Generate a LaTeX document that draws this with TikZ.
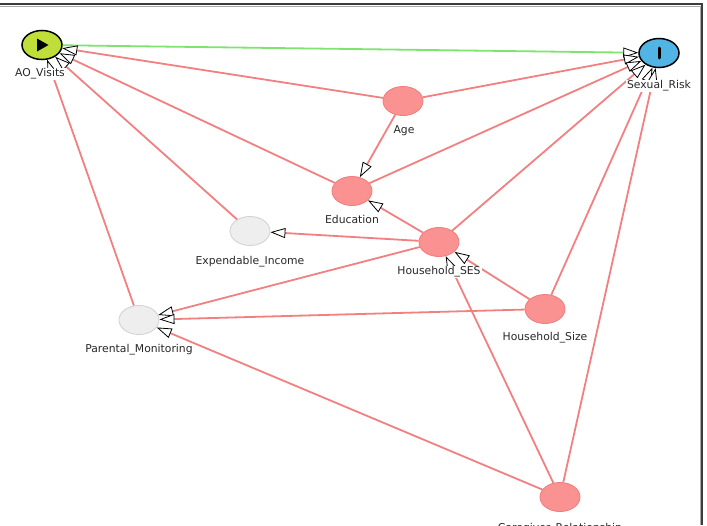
\documentclass[tikz,border=0pt]{standalone}
\usepackage{fontspec}
\setmainfont{DejaVu Sans}
\usetikzlibrary{arrows.meta,shapes.geometric}
\definecolor{edgered}{RGB}{242,128,128}
\definecolor{nodered}{RGB}{250,146,146}
\definecolor{noderedline}{RGB}{240,128,128}
\definecolor{greyfill}{RGB}{238,238,238}
\definecolor{greyline}{RGB}{212,212,212}
\definecolor{edgegreen}{RGB}{125,228,110}
\definecolor{expfill}{RGB}{192,222,58}
\definecolor{outfill}{RGB}{82,180,228}
\definecolor{labtext}{RGB}{40,40,40}
\definecolor{framedark}{RGB}{60,60,60}
\definecolor{framelight}{RGB}{170,170,170}
\begin{document}
\begin{tikzpicture}[x=1pt,y=-1pt,
  var/.style={ellipse, minimum width=40pt, minimum height=29pt, inner sep=0pt},
  redvar/.style={var, fill=nodered, draw=noderedline, line width=0.9pt},
  greyvar/.style={var, fill=greyfill, draw=greyline, line width=0.9pt},
  keyvar/.style={var, draw=black, line width=1.5pt},
  lab/.style={fill=white, inner sep=1pt, text=labtext, font=\fontsize{10.8}{13}\selectfont},
  tip/.style={-{Triangle[length=15pt,width=10pt,color=black,fill=white,line width=0.8pt]}},
  edge/.style={draw=edgered, line width=1.8pt, tip},
  gedge/.style={draw=edgegreen, line width=1.8pt, tip}]
\useasboundingbox (0,0) rectangle (707,525);
% frame
\draw[framelight, line width=0.8pt] (0,6) -- (700,6) -- (700,525);
\draw[framedark, line width=1.2pt] (0,4) -- (702,4) -- (702,525);
% variables
\node[keyvar, fill=expfill] (ao) at (42,45) {};
\node[keyvar, fill=outfill] (sr) at (659,53) {};
\node[redvar] (age) at (403,101) {};
\node[redvar] (edu) at (352,191) {};
\node[greyvar] (inc) at (250,231) {};
\node[redvar] (ses) at (439,242) {};
\node[greyvar] (pm) at (139,320) {};
\node[redvar] (size) at (545,309) {};
\node[redvar] (care) at (560,497) {};
% symbols
\fill[black] (37,38.5) -- (48.5,45) -- (37,51.5) -- cycle;
\draw[black, line width=3pt, line cap=round] (659,48) -- (659,58);
% edges
\draw[gedge] (ao) -- (sr);
\draw[edge] (age) -- (ao);
\draw[edge] (age) -- (sr);
\draw[edge] (age) -- (edu);
\draw[edge] (edu) -- (ao);
\draw[edge] (edu) -- (sr);
\draw[edge] (inc) -- (ao);
\draw[edge] (pm) -- (ao);
\draw[edge] (ses) -- (edu);
\draw[edge] (ses) -- (inc);
\draw[edge] (ses) -- (pm);
\draw[edge] (ses) -- (sr);
\draw[edge] (size) -- (ses);
\draw[edge] (size) -- (pm);
\draw[edge] (size) -- (sr);
\draw[edge] (care) -- (pm);
\draw[edge] (care) -- (ses);
\draw[edge] (care) -- (sr);
% labels
\node[lab] (aol) at (40,74) {AO\_Visits};
\node[lab] (srl) at (659,86) {Sexual\_Risk};
\node[lab] (agel) at (404,131) {Age};
\node[lab] (edul) at (352,219) {Education};
\node[lab] (incl) at (250,262) {Expendable\_Income};
\node[lab] (sesl) at (439,272) {Household\_SES};
\node[lab] (pml) at (139,350) {Parental\_Monitoring};
\node[lab] (sizel) at (545,338) {Household\_Size};
\node[lab] (carel) at (560,529) {Caregiver\_Relationship};
\end{tikzpicture}
\end{document}
